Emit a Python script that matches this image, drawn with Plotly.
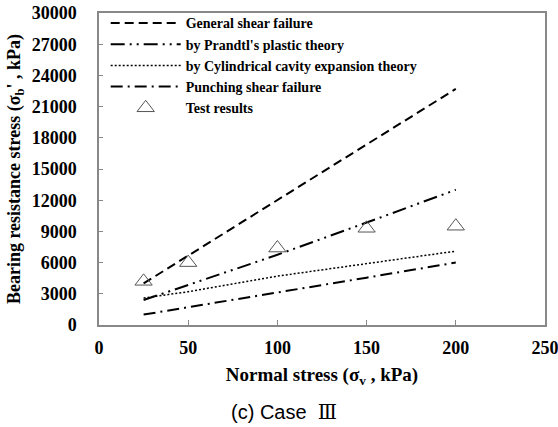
import plotly.graph_objects as go

x_theory = [25, 50, 100, 150, 200]
general_shear = [4000, 6670, 12000, 17350, 22700]
prandtl = [2400, 3850, 6750, 9850, 13000]
cylindrical = [2600, 3200, 4700, 5900, 7100]
punching = [1000, 1700, 3150, 4550, 6000]

x_test = [25, 50, 100, 150, 200]
test_results = [4200, 6000, 7400, 9300, 9500]

x_ticks = [0, 50, 100, 150, 200, 250]
y_ticks = [0, 3000, 6000, 9000, 12000, 15000, 18000, 21000, 24000, 27000, 30000]
y_ticktext = [str(v) for v in y_ticks]

serif = "Liberation Serif, Times New Roman, serif"

fig = go.Figure()
fig.add_trace(go.Scatter(x=x_theory, y=general_shear, mode="lines", name="General shear failure",
                         line=dict(color="black", width=2, dash="9px,5px")))
fig.add_trace(go.Scatter(x=x_theory, y=prandtl, mode="lines", name="by Prandtl's plastic theory",
                         line=dict(color="black", width=2, dash="14px,5px,2px,5px,2px,5px")))
fig.add_trace(go.Scatter(x=x_theory, y=cylindrical, mode="lines", name="by Cylindrical cavity expansion theory",
                         line=dict(color="black", width=1.5, dash="2px,2px")))
fig.add_trace(go.Scatter(x=x_theory, y=punching, mode="lines", name="Punching shear failure",
                         line=dict(color="black", width=2, dash="12px,5px,2px,5px")))
fig.add_trace(go.Scatter(x=x_test, y=test_results, mode="markers", name="Test results",
                         marker=dict(symbol="triangle-up-open", size=15, color="#555555",
                                     line=dict(width=1, color="#555555"))))

fig.update_layout(
    width=558, height=427,
    margin=dict(l=99, r=13, t=13, b=102, autoexpand=False),
    paper_bgcolor="white", plot_bgcolor="white",
    font=dict(family=serif, size=16, color="black", weight="bold"),
    showlegend=True,
    legend=dict(x=0.015, y=1.018, xanchor="left", yanchor="top",
                font=dict(family=serif, size=14, color="black", weight="bold"),
                bgcolor="rgba(0,0,0,0)", tracegroupgap=0, itemwidth=70),
    xaxis=dict(range=[0, 250], tickvals=x_ticks, showgrid=False, zeroline=False,
               showline=True, linecolor="#888888", linewidth=1.5, mirror=True,
               ticks="inside", ticklen=5, tickcolor="#888888",
               ticklabelstandoff=6, ticklabeloverflow="allow",
               tickfont=dict(family=serif, size=18, weight="bold"),
               title=dict(text="Normal stress (σ<sub>v</sub> , kPa)", standoff=10,
                          font=dict(family=serif, size=19, weight="bold"))),
    yaxis=dict(range=[0, 30000], tickvals=y_ticks, ticktext=y_ticktext,
               showgrid=False, zeroline=False,
               showline=True, linecolor="#888888", linewidth=1.5, mirror=True,
               ticks="inside", ticklen=4, tickcolor="#888888",
               ticklabelstandoff=17, ticklabeloverflow="allow",
               tickfont=dict(family=serif, size=18, weight="bold"),
               title=dict(text="Bearing resistance stress (σ<sub>b</sub>' , kPa)", standoff=6,
                          font=dict(family=serif, size=18, weight="bold"))),
    annotations=[dict(text="(c) Case  <span style='font-family:DejaVu Serif'>Ⅲ</span>",
                      xref="paper", yref="paper", x=0.415, y=-0.28,
                      xanchor="center", yanchor="middle", showarrow=False,
                      font=dict(family="Liberation Sans, Arial, sans-serif", size=20,
                                color="black", weight="normal"))],
)

fig.write_html("out.html")
